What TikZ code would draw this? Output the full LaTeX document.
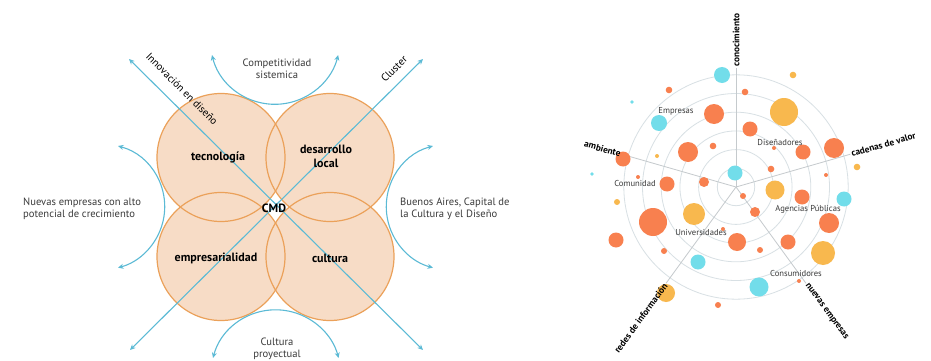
\documentclass[tikz,border=0pt]{standalone}
\usepackage{fontspec}
\setmainfont{PT Sans}
\usetikzlibrary{arrows.meta}
\definecolor{peach}{HTML}{F7DCC6}
\definecolor{ringorange}{HTML}{EBA15A}
\definecolor{skyblue}{HTML}{5BBAD5}
\definecolor{txtgray}{HTML}{3A3A3A}
\definecolor{ringgray}{HTML}{D8E0E4}
\definecolor{axisgray}{HTML}{C5CACD}
\definecolor{bo}{HTML}{F8804F}
\definecolor{by}{HTML}{F8B84E}
\definecolor{bc}{HTML}{72DDEA}
\begin{document}
\begin{tikzpicture}[x=1pt,y=1pt,
  disc/.style={circle, fill=peach, minimum size=128pt, inner sep=0pt},
  ringline/.style={draw=ringorange, line width=1.2pt},
  blueline/.style={draw=skyblue, line width=1.1pt, {Stealth[length=5.5pt,width=5pt]}-{Stealth[length=5.5pt,width=5pt]}},
  lbl/.style={font=\fontsize{10.6}{12}\selectfont, text=txtgray, align=center, inner sep=0pt},
  blbl/.style={font=\fontsize{12}{14}\selectfont\bfseries, text=black, align=center, inner sep=0pt},
  ringl/.style={draw=ringgray, line width=0.8pt},
  axisl/.style={draw=axisgray, line width=0.8pt},
  axlbl/.style={font=\fontsize{9.3}{10}\selectfont\bfseries, text=black, inner sep=1pt},
  ilbl/.style={font=\fontsize{8.6}{10}\selectfont, text=txtgray, inner sep=0pt}
]
\useasboundingbox (0,0) rectangle (931,-361);
\fill[white] (0,0) rectangle (931,-361);

% ---------- left diagram ----------
\node[disc] (ct) at (221,-157.5) {};
\node[disc] (cd) at (330,-157.5) {};
\node[disc] (ce) at (221,-256.5) {};
\node[disc] (cc) at (330,-256.5) {};
\foreach \n in {ct,cd,ce,cc} \draw[ringline] (\n.center) circle[radius=64];

\coordinate (a1) at (129,-59);
\coordinate (a2) at (423,-350);
\coordinate (b1) at (423,-59);
\coordinate (b2) at (130,-350);
\draw[blueline] (a1) -- (a2);
\draw[blueline] (b1) -- (b2);

\coordinate (t1) at (212,-55);
\coordinate (u1) at (213,-358);
\coordinate (l1) at (118,-146);
\coordinate (r1) at (433,-146);
\draw[blueline] (t1) arc[start angle=194, end angle=346, radius=65];
\draw[blueline] (u1) arc[start angle=165, end angle=15, radius=65];
\draw[blueline] (l1) arc[start angle=75, end angle=-75, radius=63];
\draw[blueline] (r1) arc[start angle=105, end angle=255, radius=63];

\node[lbl] (comp) at (277,-69) {Competitividad\\sistemica};
\node[lbl, rotate=-45, text=black] (innov) at (182,-89) {Innovación en diseño};
\node[lbl, rotate=45, text=black] (clus) at (394,-69) {Cluster};
\node[lbl, anchor=west, align=left] (nuev) at (23,-209) {Nuevas empresas con alto\\potencial de crecimiento};
\node[lbl, anchor=west, align=left] (bsas) at (400,-209) {Buenos Aires, Capital de\\la Cultura y el Diseño};
\node[lbl] (cproy) at (277,-349) {Cultura\\proyectual};

\node[blbl] (tec) at (218,-157) {tecnología};
\node[blbl] (des) at (326,-156) {desarrollo\\local};
\node[blbl] (emp) at (216,-258) {empresarialidad};
\node[blbl] (cul) at (330,-258) {cultura};
\node[blbl] (cmd) at (274,-208) {CMD};

% ---------- right diagram ----------
\coordinate (O) at (736,-187);
\foreach \k in {1,...,6} \draw[ringl] (O) circle[radius=18.7*\k];
\draw[axisl] (O) -- ++(90:119) coordinate (ax1);
\draw[axisl] (O) -- ++(16:119) coordinate (ax2);
\draw[axisl] (O) -- ++(164:119) coordinate (ax3);
\draw[axisl] (O) -- ++(234:119) coordinate (ax4);
\draw[axisl] (O) -- ++(306:119) coordinate (ax5);

\foreach \x/\y/\r/\c in {
722/75/8/bc, 793/75/3.3/by, 669/90/3.3/bo, 745/92/3.3/bo, 632/102/1.8/bc,
784/112/14/by, 714/114/10/bo, 659/123/8/bc, 750/129/7.5/bo, 688/152/10/bo,
713/146/3.3/bo, 774/148/2/bo, 803/152/7.5/bo, 834/148/10/bo, 857/167/3.3/by,
623/159/7.5/bo, 657/156/2/by, 592/174/1.8/bc, 771/169/3.3/bo, 826/175/2/bo,
735/173/7.5/bc, 638/177/2/bo, 667/184/7.5/bo, 704/182/5/bo, 775/190/9.5/by,
802/197/7.5/bo, 844/199/7.5/bc, 743/196/3/bo, 617/202/3/by, 755/212/5/bo,
653/222/14/bo, 694/214/11/by, 829/223/10/bo, 616/240/7.5/bo, 723/229/2/bo,
737/242/9/bo, 788/242/7.5/bo, 823/253/12/by, 664/251/3/bo, 760/250/3/bo,
698/262/7.5/bc, 759/287/9.5/bc, 799/281/2/bo, 666/293/9/by, 718/305/3/bo}
  \fill[\c] (\x,-\y) circle[radius=\r];

\node[axlbl, rotate=90, anchor=west] (kconoc) at (ax1) {conocimiento};
\node[axlbl, rotate=16, anchor=west] (kcaden) at (ax2) {cadenas de valor};
\node[axlbl, rotate=-16, anchor=east] (kambie) at (ax3) {ambiente};
\node[axlbl, rotate=54, anchor=east] (kredes) at (ax4) {redes de información};
\node[axlbl, rotate=-54, anchor=west] (knuev) at (ax5) {nuevas empresas};

\node[ilbl] (iemp) at (676,-111) {Empresas};
\node[ilbl] (idis) at (780,-142) {Diseñadores};
\node[ilbl] (icom) at (635,-183) {Comunidad};
\node[ilbl] (iage) at (808,-209) {Agencias Públicas};
\node[ilbl] (iuni) at (701,-233) {Universidades};
\node[ilbl] (icon) at (796,-273) {Consumidores};
\end{tikzpicture}
\end{document}
